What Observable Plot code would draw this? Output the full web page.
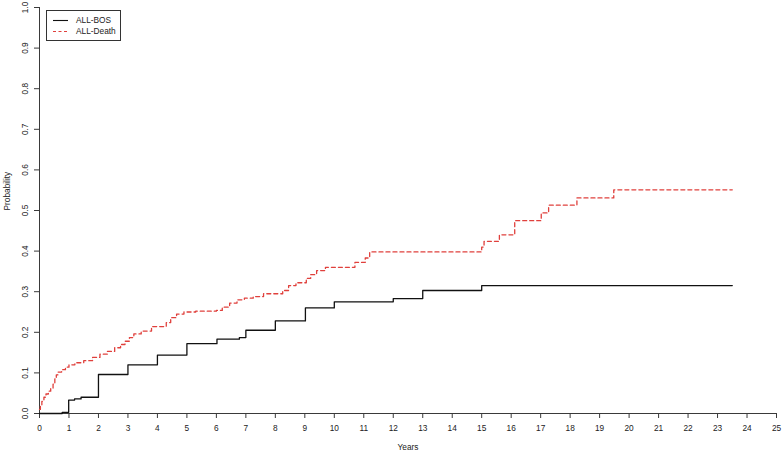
<!DOCTYPE html>
<html>
<head>
<meta charset="utf-8">
<script src="https://cdn.jsdelivr.net/npm/d3@7"></script>
<script src="https://cdn.jsdelivr.net/npm/@observablehq/plot@0.6"></script>
<style>
  html, body { margin: 0; padding: 0; background: #fff; }
  svg { display: block; }
</style>
</head>
<body>
<div id="chart"></div>
<script>
// ---- data ----
const bosTime = [0, 0.77, 0.99, 1.19, 1.41, 2.0, 3.0, 4.0, 5.0, 6.02, 6.78, 7.0, 8.0, 9.02, 10.0, 12.0, 13.0, 15.0, 23.5];
const bosProb = [0, 0.003, 0.033, 0.036, 0.040, 0.096, 0.120, 0.144, 0.172, 0.183, 0.187, 0.205, 0.228, 0.260, 0.275, 0.283, 0.303, 0.315, 0.315];

const deathTime = [0, 0.03, 0.08, 0.15, 0.22, 0.3, 0.38, 0.46, 0.52, 0.57,
  0.62, 0.75, 0.88, 1.0, 1.2, 1.5, 1.8, 2.05, 2.3, 2.55,
  2.75, 2.9, 3.05, 3.2, 3.45, 3.8, 4.3, 4.45, 4.65, 4.9,
  5.3, 6.0, 6.2, 6.45, 6.7, 6.95, 7.25, 7.6, 8.25, 8.45,
  8.7, 9.05, 9.2, 9.4, 9.7, 10.7, 11.05, 11.2, 15.0, 15.08,
  15.6, 16.12, 17.02, 17.27, 18.23, 19.48, 23.5];
const deathProb = [0.01, 0.02, 0.03, 0.04, 0.048, 0.055, 0.062, 0.072, 0.085, 0.095,
  0.102, 0.108, 0.114, 0.12, 0.125, 0.13, 0.138, 0.146, 0.153, 0.162,
  0.17, 0.178, 0.187, 0.196, 0.203, 0.214, 0.224, 0.236, 0.245, 0.25,
  0.252, 0.254, 0.262, 0.272, 0.28, 0.284, 0.288, 0.295, 0.303, 0.315,
  0.322, 0.333, 0.342, 0.352, 0.36, 0.372, 0.383, 0.398, 0.41, 0.424,
  0.44, 0.475, 0.494, 0.513, 0.531, 0.551, 0.551];

const seriesNames = ["ALL-BOS", "ALL-Death"];
const xTicks = d3.range(0, 26);
const yTicks = [0, 0.1, 0.2, 0.3, 0.4, 0.5, 0.6, 0.7, 0.8, 0.9, 1.0];
const xLabel = "Years";
const yLabel = "Probability";

// ---- build tables ----
const bos = bosTime.map((t, i) => ({t, p: bosProb[i]}));
const death = deathTime.map((t, i) => ({t, p: deathProb[i]}));

const axisColor = "#3a3a3a";
const red = "#e0403c";
const font = "Liberation Sans, Arial, Helvetica, sans-serif";

const svg = Plot.plot({
  width: 782,
  height: 454,
  marginLeft: 39,
  marginRight: 6,
  marginTop: 7,
  marginBottom: 41,
  style: {fontFamily: font, fontSize: "8.3px", color: "#222", background: "#fff"},
  x: {domain: [0, 25]},
  y: {domain: [0, 1]},
  marks: [
    Plot.ruleY([0], {stroke: axisColor, strokeWidth: 1}),
    Plot.ruleX([0], {stroke: axisColor, strokeWidth: 1}),
    Plot.axisX({ticks: xTicks, tickSize: 5, tickPadding: 7, tickFormat: d => String(d), label: null, stroke: axisColor, fill: "#222"}),
    Plot.axisY({ticks: yTicks, tickSize: 5, tickPadding: 9, tickFormat: d3.format(".1f"), tickRotate: -90, textAnchor: "middle", lineAnchor: "middle", label: null, stroke: axisColor, fill: "#222"}),
    Plot.text([xLabel], {frameAnchor: "bottom", dy: 36, fill: "#222"}),
    Plot.text([yLabel], {frameAnchor: "left", dx: -32, rotate: -90, fill: "#222"}),
    Plot.line(death, {x: "t", y: "p", curve: "step-after", stroke: red, strokeWidth: 1.3, strokeDasharray: "4,3"}),
    Plot.line(bos, {x: "t", y: "p", curve: "step-after", stroke: "#111", strokeWidth: 1.3})
  ]
});

// ---- legend (R style box, top-left inside plot) ----
const g = d3.select(svg).append("g")
  .attr("font-family", font).attr("font-size", "8.3px").attr("text-anchor", "start");
g.append("rect").attr("x", 46.5).attr("y", 10.5).attr("width", 74).attr("height", 30)
  .attr("fill", "#fff").attr("stroke", "#333").attr("stroke-width", 1);
const legendStyles = [{stroke: "#111", dash: null}, {stroke: red, dash: "3,2.5"}];
seriesNames.forEach((name, i) => {
  const y = 20.5 + i * 11;
  g.append("line").attr("x1", 53).attr("x2", 68).attr("y1", y).attr("y2", y)
    .attr("stroke", legendStyles[i].stroke).attr("stroke-width", 1.1)
    .attr("stroke-dasharray", legendStyles[i].dash);
  g.append("text").attr("x", 76).attr("y", y).attr("dy", "0.35em")
    .attr("text-anchor", "start").attr("fill", "#222").text(name);
});

document.getElementById("chart").appendChild(svg);
</script>
</body>
</html>
